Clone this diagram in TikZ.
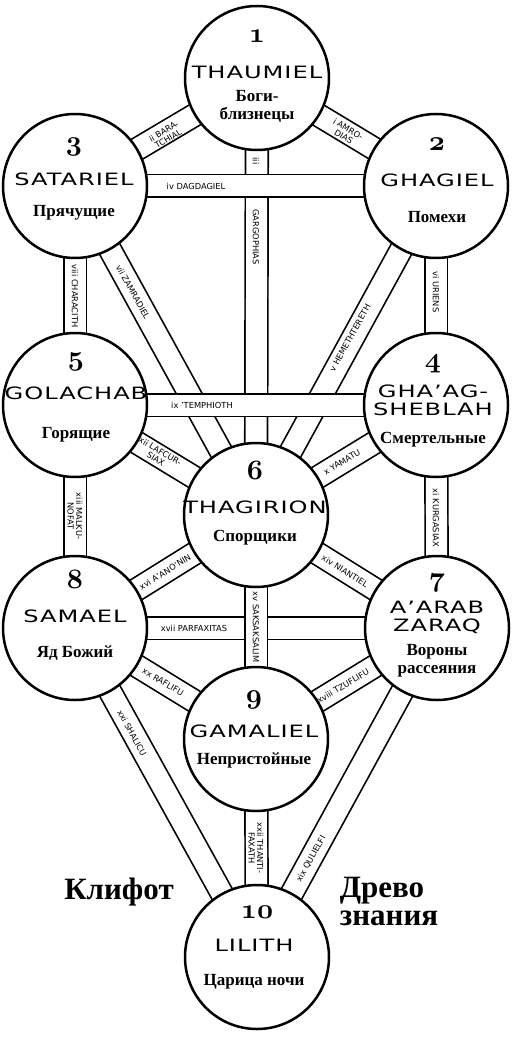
\RequirePackage{fix-cm}
\documentclass[tikz,border=0pt]{standalone}
\usepackage{fontspec}
\usepackage{graphicx}
\setmainfont{Liberation Serif}
\newfontfamily\namefont[LetterSpace=4]{DejaVu Sans}
\newfontfamily\lblfont{DejaVu Sans}
\newfontfamily\rufont{Liberation Serif}
\newcommand\nm[1]{\scalebox{1.42}[1]{#1}}
\tikzset{
  sephira/.style={circle, draw=black, line width=2.5pt, fill=white, minimum size=144pt, inner sep=0pt},
  band/.style={draw=black, line width=1.7pt, double=white, double distance=21pt},
  numtxt/.style={font={\fontsize{28}{30}\usefont{OML}{cmm}{b}{it}}, inner sep=0pt, text height=12pt, text depth=6pt},
  nametxt/.style={font={\namefont\fontsize{17}{18}\selectfont}, inner sep=0pt, align=center},
  rutxt/.style={font={\rufont\bfseries\fontsize{17}{18}\selectfont}, inner sep=0pt, align=center},
  lbltxt/.style={font={\lblfont\fontsize{8.3}{8.6}\selectfont}, inner sep=0pt, align=center},
  bigtxt/.style={font={\rufont\bfseries\fontsize{31}{28}\selectfont}, inner sep=0pt, align=left}
}
\begin{document}
\begin{tikzpicture}[x=1pt,y=-1pt]
\useasboundingbox (0,0) rectangle (522,1040);
\fill[white] (0,0) rectangle (522,1040);
\coordinate (p1) at (257,78);
\coordinate (p2) at (436,186);
\coordinate (p3) at (75,186);
\coordinate (p4) at (436,405);
\coordinate (p5) at (75,405);
\coordinate (p6) at (256,515);
\coordinate (p7) at (437,628);
\coordinate (p8) at (75,628);
\coordinate (p9) at (256,739);
\coordinate (p10) at (257,957);
% bands
\draw[band] (p1) -- (p6);
\draw[band] (p2) -- (p6);
\draw[band] (p3) -- (p6);
\draw[band] (p3) -- (p2);
\draw[band] (p5) -- (p4);
\draw[band] (p1) -- (p2);
\draw[band] (p1) -- (p3);
\draw[band] (p2) -- (p4);
\draw[band] (p3) -- (p5);
\draw[band] (p4) -- (p6);
\draw[band] (p5) -- (p6);
\draw[band] (p4) -- (p7);
\draw[band] (p5) -- (p8);
\draw[band] (p6) -- (p7);
\draw[band] (p6) -- (p8);
\draw[band] (p8) -- (p7);
\draw[band] (p6) -- (p9);
\draw[band] (p7) -- (p9);
\draw[band] (p8) -- (p9);
\draw[band] (p7) -- (p10);
\draw[band] (p8) -- (p10);
\draw[band] (p9) -- (p10);
% circles
\foreach \i in {1,...,10} { \node[sephira] (s\i) at (p\i) {}; }
% band labels
\node[lbltxt, rotate=-31] (l1) at (346,133) {i AMRO-\\DIAS};
\node[lbltxt, rotate=31] (l2) at (166,135) {ii BARA-\\TCHIAL};
\node[lbltxt, rotate=-90] (l3a) at (256,161) {iii};
\node[lbltxt, rotate=-90] (l3b) at (256,237) {GARGOPHIAS};
\node[lbltxt] (l4) at (196,186) {iv DAGDAGIEL};
\node[lbltxt, rotate=61] (l5) at (350,338) {v HEMETHTERETH};
\node[lbltxt, rotate=-90] (l6) at (436,292) {vi URIENS};
\node[lbltxt, rotate=-61] (l7) at (133,292) {vii ZAMRADIEL};
\node[lbltxt, rotate=-90] (l8) at (75,296) {viii CHARACITH};
\node[lbltxt] (l9) at (202,405) {ix ’TEMPHIOTH};
\node[lbltxt, rotate=31] (l10) at (342,462) {x YAMATU};
\node[lbltxt, rotate=-90] (l11) at (436,518) {xi KURGASIAX};
\node[lbltxt, rotate=-31] (l12) at (158,455) {xii LAFCUR-\\SIAX};
\node[lbltxt, rotate=-90] (l13) at (75,516) {xiii MALKU-\\NOFAT};
\node[lbltxt, rotate=-32] (l14) at (345,571) {xiv NIANTIEL};
\node[lbltxt, rotate=-90] (l15) at (256,627) {xv SAKSAKSALIM};
\node[lbltxt, rotate=32] (l16) at (165,572) {xvi A’ANO’NIN};
\node[lbltxt] (l17) at (194,628) {xvii PARFAXITAS};
\node[lbltxt, rotate=31] (l18) at (343,686) {xviii TZUFLIFU};
\node[lbltxt, rotate=61] (l19) at (311,859) {xix QULIELFI};
\node[lbltxt, rotate=-31] (l20) at (163,682) {xx RAFLIFU};
\node[lbltxt, rotate=-61] (l21) at (132,733) {xxi SHALICU};
\node[lbltxt, rotate=-90] (l22) at (256,848) {xxii THANTI-\\FAXATH};
% circle texts
\node[numtxt] (n1) at (257,40) {1};
\node[nametxt] (t1) at (257,72) {\nm{THAUMIEL}};
\node[rutxt] (r1) at (257,106) {Боги-\\близнецы};
\node[numtxt] (n3) at (74,148) {3};
\node[nametxt] (t3) at (74,179) {\nm{SATARIEL}};
\node[rutxt] (r3) at (74,213) {Прячущие};
\node[numtxt] (n2) at (437,148) {2};
\node[nametxt] (t2) at (437,180) {\nm{GHAGIEL}};
\node[rutxt] (r2) at (437,217) {Помехи};
\node[numtxt] (n5) at (76,362) {5};
\node[nametxt] (t5) at (76,393) {\nm{GOLACHAB}};
\node[rutxt] (r5) at (76,435) {Горящие};
\node[numtxt] (n4) at (433,364) {4};
\node[nametxt] (t4) at (433,400) {\nm{GHA’AG-}\\\nm{SHEBLAH}};
\node[rutxt] (r4) at (433,440) {Смертельные};
\node[numtxt] (n6) at (255,476) {6};
\node[nametxt] (t6) at (255,507) {\nm{THAGIRION}};
\node[rutxt] (r6) at (255,538) {Спорщики};
\node[numtxt] (n8) at (75,585) {8};
\node[nametxt] (t8) at (75,616) {\nm{SAMAEL}};
\node[rutxt] (r8) at (75,653) {Яд Божий};
\node[numtxt] (n7) at (437,583) {7};
\node[nametxt] (t7) at (437,617) {\nm{A’ARAB}\\\nm{ZARAQ}};
\node[rutxt] (r7) at (437,661) {Вороны\\рассеяния};
\node[numtxt] (n9) at (254,700) {9};
\node[nametxt] (t9) at (254,731) {\nm{GAMALIEL}};
\node[rutxt] (r9) at (254,760) {Непристойные};
\node[numtxt] (n10) at (257,915) {10};
\node[nametxt] (t10) at (254,945) {\nm{LILITH}};
\node[rutxt] (r10) at (254,982) {Царица ночи};
% side titles
\node[bigtxt] (k) at (119,892) {Клифот};
\node[bigtxt] (d) at (389,901) {Древо\\знания};
\end{tikzpicture}
\end{document}
